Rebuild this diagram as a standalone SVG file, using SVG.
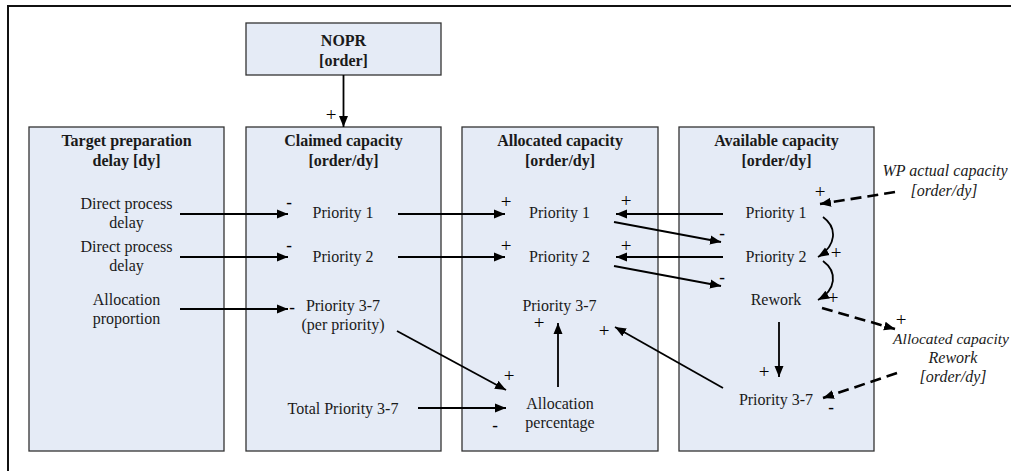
<svg xmlns="http://www.w3.org/2000/svg" width="1011" height="471" viewBox="0 0 1011 471">
  <style>
    .box { fill: #e5ebf6; stroke: #333333; stroke-width: 1.3; }
    text { font-family: 'Liberation Serif', 'Times New Roman', serif; font-size: 16px; fill: #1a1a1a; text-anchor: middle; }
    .b { font-weight: bold; }
    .i { font-style: italic; }
    .p { font-size: 19px; fill: #000; }
    .m { font-size: 17px; fill: #000; font-weight: bold; }
    .ln { fill: none; stroke: #000; stroke-width: 1.8; marker-end: url(#ah); }
    .dl { fill: none; stroke: #000; stroke-width: 2.6; stroke-dasharray: 11 6; marker-end: url(#ah); }
  </style>
  <defs>
    <marker id="ah" markerUnits="userSpaceOnUse" markerWidth="12" markerHeight="10" refX="11" refY="5" orient="auto">
      <path d="M0,0.5 L11,5 L0,9.5 z" fill="#000"/>
    </marker>
  </defs>

  <!-- frame -->
  <path d="M8,471 V6 H1011" fill="none" stroke="#111" stroke-width="2"/>

  <!-- NOPR stock -->
  <g id="nopr">
    <rect class="box" x="246" y="23" width="195" height="52"/>
    <text class="b" x="343.5" y="46">NOPR</text>
    <text class="b" x="343.5" y="66">[order]</text>
  </g>

  <!-- target preparation delay -->
  <g id="target-delay">
    <rect class="box" x="29" y="127" width="195" height="324"/>
    <text class="b" x="126.5" y="146">Target preparation</text>
    <text class="b" x="126.5" y="166">delay [dy]</text>
    <text x="126.5" y="209">Direct process</text>
    <text x="126.5" y="228">delay</text>
    <text x="126.5" y="252">Direct process</text>
    <text x="126.5" y="271">delay</text>
    <text x="126.5" y="305">Allocation</text>
    <text x="126.5" y="324">proportion</text>
  </g>

  <!-- claimed capacity -->
  <g id="claimed-capacity">
    <rect class="box" x="246" y="127" width="195" height="324"/>
    <text class="b" x="343.5" y="146">Claimed capacity</text>
    <text class="b" x="343.5" y="166">[order/dy]</text>
    <text x="343" y="218">Priority 1</text>
    <text x="343" y="262">Priority 2</text>
    <text x="343" y="311">Priority 3-7</text>
    <text x="343" y="330">(per priority)</text>
    <text x="343" y="414">Total Priority 3-7</text>
  </g>

  <!-- allocated capacity -->
  <g id="allocated-capacity">
    <rect class="box" x="462" y="127" width="196" height="324"/>
    <text class="b" x="560" y="146">Allocated capacity</text>
    <text class="b" x="560" y="166">[order/dy]</text>
    <text x="559.5" y="218">Priority 1</text>
    <text x="559.5" y="262">Priority 2</text>
    <text x="559.5" y="311">Priority 3-7</text>
    <text x="560" y="409">Allocation</text>
    <text x="560" y="428">percentage</text>
  </g>

  <!-- available capacity -->
  <g id="available-capacity">
    <rect class="box" x="679" y="127" width="195" height="324"/>
    <text class="b" x="776.5" y="146">Available capacity</text>
    <text class="b" x="776.5" y="166">[order/dy]</text>
    <text x="776" y="218">Priority 1</text>
    <text x="776" y="262">Priority 2</text>
    <text x="776" y="305">Rework</text>
    <text x="776" y="405">Priority 3-7</text>
  </g>

  <!-- external inputs -->
  <g id="wp-actual-capacity">
    <text class="i" x="945" y="176">WP actual capacity</text>
    <text class="i" x="944" y="196">[order/dy]</text>
  </g>
  <g id="allocated-rework">
    <text class="i" x="951" y="344" style="font-size:15.5px">Allocated capacity</text>
    <text class="i" x="953" y="363">Rework</text>
    <text class="i" x="953" y="382">[order/dy]</text>
  </g>

  <!-- connectors -->
  <g id="connectors">
    <line class="ln" x1="343.5" y1="75" x2="343.5" y2="127"/>
    <line class="ln" x1="180" y1="214" x2="288" y2="214"/>
    <line class="ln" x1="180" y1="257" x2="288" y2="257"/>
    <line class="ln" x1="180" y1="309" x2="288" y2="309"/>
    <line class="ln" x1="398" y1="214" x2="505" y2="214"/>
    <line class="ln" x1="398" y1="257" x2="505" y2="257"/>
    <line class="ln" x1="723" y1="214" x2="616" y2="214"/>
    <line class="ln" x1="723" y1="257" x2="616" y2="257"/>
    <line class="ln" x1="614" y1="222" x2="721" y2="242"/>
    <line class="ln" x1="614" y1="266" x2="721" y2="286"/>
    <line class="ln" x1="397" y1="331" x2="506" y2="390"/>
    <line class="ln" x1="418" y1="408" x2="506" y2="408"/>
    <line class="ln" x1="558" y1="387" x2="558" y2="323"/>
    <line class="ln" x1="723" y1="388" x2="615" y2="327"/>
    <line class="ln" x1="779" y1="322" x2="779" y2="377"/>
    <path class="ln" d="M823,217 C838,228 836,246 818,257"/>
    <path class="ln" d="M823,261 C838,272 836,290 818,300"/>
    <line class="dl" x1="895" y1="192" x2="820" y2="204"/>
    <line class="dl" x1="822" y1="308" x2="895" y2="329"/>
    <line class="dl" x1="897" y1="373" x2="823" y2="398"/>
  </g>

  <!-- polarity signs -->
  <g id="polarities">
    <text class="p" x="331" y="121">+</text>
    <text class="m" x="289" y="208">-</text>
    <text class="m" x="289" y="251">-</text>
    <text class="m" x="292" y="313">-</text>
    <text class="p" x="506" y="208">+</text>
    <text class="p" x="506" y="252">+</text>
    <text class="p" x="626" y="207">+</text>
    <text class="p" x="626" y="252">+</text>
    <text class="m" x="722" y="239">-</text>
    <text class="m" x="722" y="283">-</text>
    <text class="p" x="509" y="382">+</text>
    <text class="m" x="495" y="431">-</text>
    <text class="p" x="539" y="329">+</text>
    <text class="p" x="604" y="337">+</text>
    <text class="p" x="820" y="198">+</text>
    <text class="p" x="836" y="259">+</text>
    <text class="p" x="833" y="304">+</text>
    <text class="p" x="764" y="378">+</text>
    <text class="p" x="901" y="326">+</text>
    <text class="m" x="831" y="413">-</text>
  </g>
</svg>
